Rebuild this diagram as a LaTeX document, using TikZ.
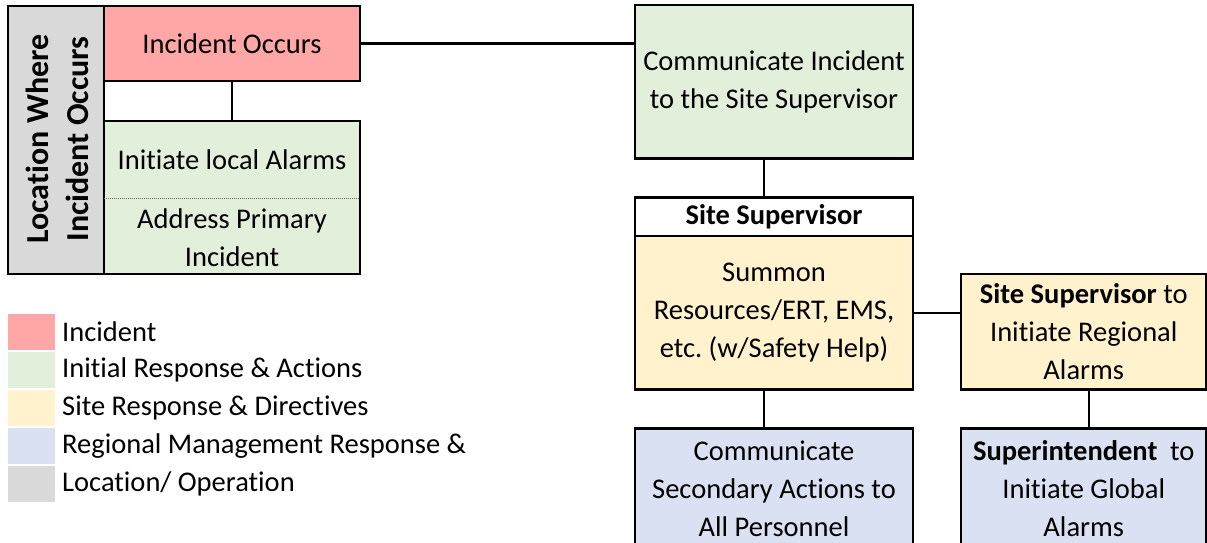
\documentclass[tikz,border=0pt]{standalone}
\usepackage{fontspec}
\setmainfont[Ligatures=NoCommon]{Carlito}
\definecolor{cpink}{HTML}{FFA7A7}
\definecolor{cgreen}{HTML}{E2EFDA}
\definecolor{cyellow}{HTML}{FFF2CC}
\definecolor{cblue}{HTML}{D9E1F2}
\definecolor{cgray}{HTML}{D9D9D9}
\newcommand{\fsz}{\fontsize{28.5}{38}\selectfont}
\frenchspacing
\begin{document}
\begin{tikzpicture}[x=1pt,y=-1pt,
  box/.style={draw=black, line width=2.4pt, inner sep=0pt, align=center, font=\fsz},
  txt/.style={inner sep=0pt, align=center, font=\fsz},
  conn/.style={draw=black, line width=2.2pt},
  legsq/.style={inner sep=0pt, minimum width=47pt, minimum height=36pt},
  legtxt/.style={inner sep=0pt, anchor=west, font=\fsz}]
\useasboundingbox (0,0) rectangle (1207,542);
% left group
\node[box, fill=cgray, minimum width=96pt, minimum height=268pt] (loc) at (56,140) {};
\node[txt, rotate=90, font=\fontsize{32}{40}\selectfont\bfseries] (loctxt) at (57,139) {Location Where\\Incident Occurs};
\node[box, fill=cpink, minimum width=256pt, minimum height=75pt] (inc) at (232,43.5) {Incident Occurs};
\node[box, fill=cgreen, minimum width=256pt, minimum height=153pt] (resp) at (232,197.5) {};
\node[txt] (alarm) at (232,160) {Initiate local Alarms};
\node[txt] (primary) at (232,238) {Address Primary\\Incident};
\draw[black!60, line width=1pt, densely dotted] ([xshift=1.2pt,yshift=-0.5pt]resp.west) -- ([xshift=-1.2pt,yshift=-0.5pt]resp.east);
% right group
\node[box, fill=cgreen, minimum width=278pt, minimum height=153.5pt] (comm) at (774,81.75) {Communicate Incident\\to the Site Supervisor};
\node[box, fill=white, minimum width=278pt, minimum height=38.5pt, font=\fsz\bfseries] (sitehd) at (774,216.75) {Site Supervisor};
\node[box, fill=cyellow, minimum width=278pt, minimum height=153.5pt] (summon) at (774,312.75) {Summon\\Resources/ERT, EMS,\\etc. (w/Safety Help)};
\node[box, fill=cyellow, minimum width=245.5pt, minimum height=115.5pt] (regional) at (1083.75,331.75) {\textbf{Site Supervisor} to\\Initiate Regional\\Alarms};
\node[box, fill=cblue, minimum width=278pt, minimum height=120pt] (secondary) at (774,488.5) {Communicate\\Secondary Actions to\\All Personnel};
\node[box, fill=cblue, minimum width=245.5pt, minimum height=120pt] (global) at (1083.75,488.5) {\textbf{Superintendent}\ \ to\\Initiate Global\\Alarms};
% connectors
\draw[conn] (inc.east) -- (inc.east -| comm.west);
\draw[conn] (inc.south) -- (resp.north);
\draw[conn] ([xshift=-10pt]comm.south) -- ([xshift=-10pt]sitehd.north);
\draw[conn] ([xshift=-10pt]summon.south) -- ([xshift=-10pt]secondary.north);
\draw[conn] (summon.east) -- (summon.east -| regional.west);
\draw[conn] ([xshift=5pt]regional.south) -- ([xshift=5pt]regional.south |- global.north);
% legend
\node[legsq, fill=cpink, anchor=north west] (l1) at (8,314) {};
\node[legsq, fill=cgreen, anchor=north west] (l2) at (8,352) {};
\node[legsq, fill=cyellow, anchor=north west] (l3) at (8,390) {};
\node[legsq, fill=cblue, anchor=north west] (l4) at (8,428) {};
\node[legsq, fill=cgray, anchor=north west] (l5) at (8,466) {};
\node[legtxt] (t1) at (62,332) {Incident};
\node[legtxt] (t2) at (62,370) {Initial Response \& Actions};
\node[legtxt] (t3) at (62,408) {Site Response \& Directives};
\node[legtxt] (t4) at (62,446) {Regional Management Response \&};
\node[legtxt] (t5) at (62,484) {Location/ Operation};
\end{tikzpicture}
\end{document}
